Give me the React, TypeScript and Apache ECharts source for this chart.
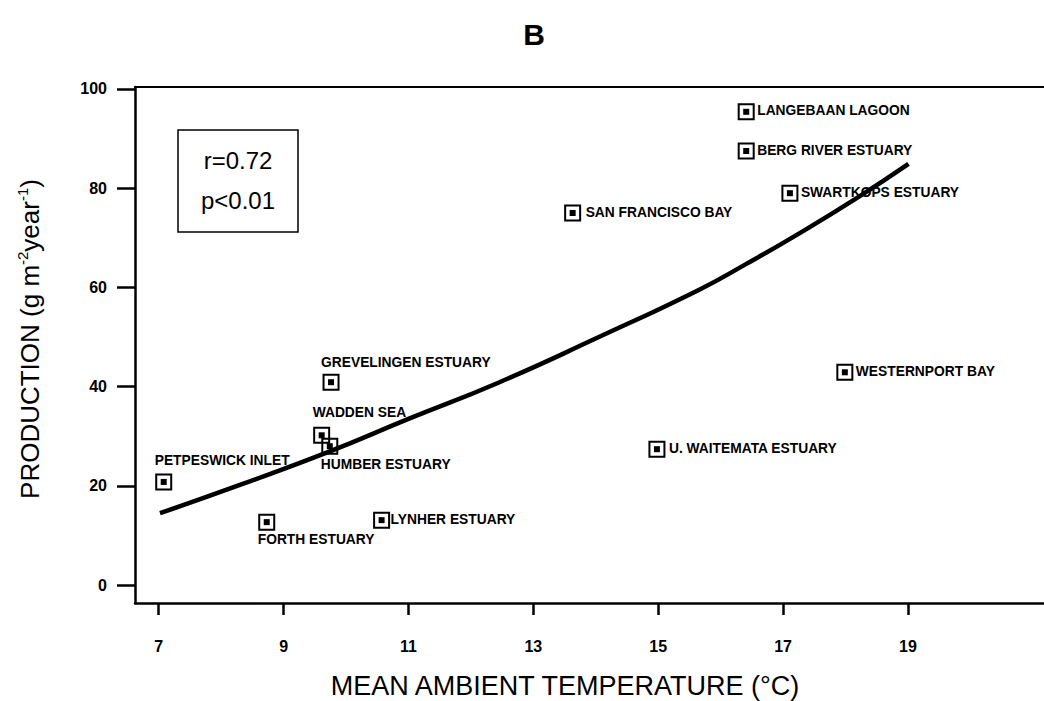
import React, { useEffect, useRef } from "react";
import * as echarts from "echarts";

const FONT = "'Liberation Sans', Arial, Helvetica, sans-serif";

// Stations: name, mean ambient temperature (°C), production (g m-2 year-1)
const stationNames = [
  "PETPESWICK INLET",
  "FORTH ESTUARY",
  "WADDEN SEA",
  "HUMBER ESTUARY",
  "GREVELINGEN ESTUARY",
  "LYNHER ESTUARY",
  "SAN FRANCISCO BAY",
  "U. WAITEMATA ESTUARY",
  "LANGEBAAN LAGOON",
  "BERG RIVER ESTUARY",
  "SWARTKOPS ESTUARY",
  "WESTERNPORT BAY",
];
const temperatures = [7.08, 8.73, 9.61, 9.74, 9.76, 10.57, 13.63, 14.98, 16.41, 16.41, 17.11, 17.99];
const production = [20.8, 12.7, 30.2, 28.0, 40.9, 13.1, 75.0, 27.4, 95.4, 87.5, 79.0, 42.9];

// Fitted curve
const curveX = [7.02, 8.3, 9.73, 11.0, 12.44, 14.05, 15.65, 16.42, 17.22, 18.18, 19.01];
const curveY = [14.5, 20.2, 26.9, 33.5, 40.8, 50.0, 59.5, 64.8, 70.6, 78.0, 84.9];

const xTicks = [7, 9, 11, 13, 15, 17, 19];
const yTicks = [0, 20, 40, 60, 80, 100];

const statR = "r=0.72";
const statP = "p<0.01";

// label placement relative to marker centre [dx, dy]
const labelOffsets: number[][] = [
  [-8, -20],
  [-8, 18],
  [-8, -22],
  [-8, 19],
  [-9, -19],
  [10, 0],
  [14, 0],
  [13, 0],
  [12, 0],
  [12, 0],
  [12, 0],
  [12, 0],
];

const OUTER = 15;

export default function App() {
  const ref = useRef<HTMLDivElement>(null);
  useEffect(() => {
    if (!ref.current) return;
    const chart = echarts.init(ref.current, null, { renderer: "svg" });
    const pts = stationNames.map((n, i) => ({
      name: n,
      value: [temperatures[i], production[i]],
      label: {
        show: true,
        position: [labelOffsets[i][0] + OUTER / 2, labelOffsets[i][1] + OUTER / 2],
        align: "left",
        verticalAlign: "middle",
        color: "#000",
        fontSize: 13.8,
        fontWeight: "bold",
        fontFamily: FONT,
        formatter: n,
      },
    }));
    const plain = stationNames.map((n, i) => [temperatures[i], production[i]]);
    const curve = curveX.map((x, i) => [x, curveY[i]]);
    const axisColor = "#000";
    chart.setOption({
      animation: false,
      backgroundColor: "#fff",
      grid: { left: 135, right: 0, top: 87, bottom: 98, containLabel: false, outerBoundsMode: "none" },
      xAxis: [
        {
          type: "value",
          min: 6.62,
          max: 21.18,
          position: "bottom",
          axisLine: { show: true, onZero: false, lineStyle: { color: axisColor, width: 2.5 } },
          axisTick: { show: true, customValues: xTicks, length: 12, lineStyle: { color: axisColor, width: 2.5 } },
          axisLabel: {
            customValues: xTicks,
            margin: 35,
            color: "#000",
            fontSize: 16,
            fontWeight: "bold",
            fontFamily: FONT,
          },
          splitLine: { show: false },
        },
        {
          type: "value",
          min: 6.62,
          max: 21.18,
          position: "top",
          axisLine: { show: true, onZero: false, lineStyle: { color: axisColor, width: 2 } },
          axisTick: { show: false },
          axisLabel: { show: false },
          splitLine: { show: false },
        },
      ],
      yAxis: {
        type: "value",
        min: -3.6,
        max: 100.4,
        axisLine: { show: true, onZero: false, lineStyle: { color: axisColor, width: 2.5 } },
        axisTick: { show: true, customValues: yTicks, length: 18, lineStyle: { color: axisColor, width: 2.5 } },
        axisLabel: {
          customValues: yTicks,
          margin: 28,
          color: "#000",
          fontSize: 16,
          fontWeight: "bold",
          fontFamily: FONT,
        },
        splitLine: { show: false },
      },
      graphic: [
        {
          type: "text",
          x: 534,
          y: 34,
          style: { text: "B", font: `bold 30px ${FONT}`, fill: "#000", textAlign: "center", textVerticalAlign: "middle" },
        },
        {
          type: "text",
          x: 565,
          y: 686,
          style: {
            text: "MEAN AMBIENT TEMPERATURE (°C)",
            font: `27px ${FONT}`,
            fill: "#000",
            textAlign: "center",
            textVerticalAlign: "middle",
          },
        },
        {
          type: "text",
          x: 30,
          y: 339,
          rotation: Math.PI / 2,
          style: {
            text: "PRODUCTION (g m{sup|-2}year{sup|-1})",
            font: `26px ${FONT}`,
            fill: "#000",
            textAlign: "center",
            textVerticalAlign: "middle",
            rich: {
              sup: { fontSize: 15, fontFamily: FONT, verticalAlign: "top", lineHeight: 30, fill: "#000" },
            },
          },
        },
        {
          type: "rect",
          shape: { x: 178, y: 130, width: 120, height: 102 },
          style: { fill: "#fff", stroke: "#000", lineWidth: 1.5 },
        },
        {
          type: "text",
          x: 238,
          y: 160,
          style: { text: statR, font: `24px ${FONT}`, fill: "#000", textAlign: "center", textVerticalAlign: "middle" },
        },
        {
          type: "text",
          x: 238,
          y: 200,
          style: { text: statP, font: `24px ${FONT}`, fill: "#000", textAlign: "center", textVerticalAlign: "middle" },
        },
      ],
      series: [
        {
          type: "line",
          data: curve,
          smooth: true,
          showSymbol: false,
          lineStyle: { color: "#000", width: 4.5 },
          z: 3,
        },
        {
          type: "scatter",
          data: pts,
          symbol: "rect",
          symbolSize: OUTER,
          itemStyle: { color: "rgba(255,255,255,0)", borderColor: "#000", borderWidth: 2, opacity: 1 },
          z: 4,
        },
        {
          type: "scatter",
          data: plain,
          symbol: "rect",
          symbolSize: 6,
          itemStyle: { color: "#000", opacity: 1 },
          z: 5,
        },
      ],
    });
    return () => chart.dispose();
  }, []);
  return (
    <div
      ref={ref}
      style={{ position: "fixed", left: 0, top: 0, width: 1044, height: 701, background: "#fff" }}
    />
  );
}
